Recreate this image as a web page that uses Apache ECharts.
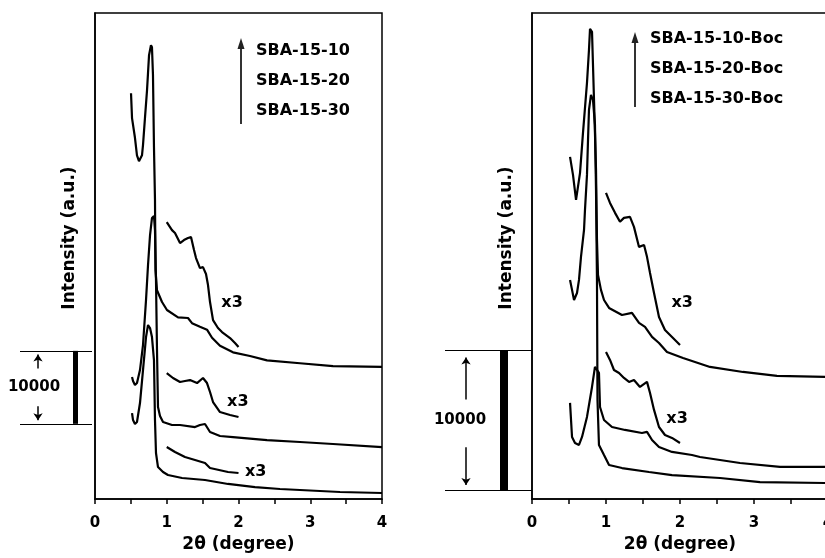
<!DOCTYPE html>
<html>
<head>
<meta charset="utf-8">
<script src="https://cdn.jsdelivr.net/npm/echarts@6/dist/echarts.min.js"></script>
<style>
  html, body { margin: 0; padding: 0; background: #fff; }
  #chart { width: 825px; height: 558px; }
</style>
</head>
<body>
<div id="chart"></div>
<script>
// 2theta, intensity (counts)
const tickLabels = ['0', '1', '2', '3', '4'];
const leftNames = ['SBA-15-10', 'SBA-15-20', 'SBA-15-30'];
const rightNames = ['SBA-15-10-Boc', 'SBA-15-20-Boc', 'SBA-15-30-Boc'];

const sba10 = [[0.502,55600],[0.516,52200],[0.557,49500],[0.585,47100],[0.613,46300],[0.655,47100],[0.669,48500],[0.697,52300],[0.725,56000],[0.739,58400],[0.753,60800],[0.780,62200],[0.794,61900],[0.808,58100],[0.822,48200],[0.836,41000],[0.843,31400],[0.864,28600],[0.934,27000],[1.003,25900],[1.157,24900],[1.296,24800],[1.352,24100],[1.463,23600],[1.561,23200],[1.631,22100],[1.742,21000],[1.923,20100],[2.160,19600],[2.397,19000],[2.857,18600],[3.317,18200],[4.0,18100]];
const sba10x3 = [[1.0,37950],[1.073,36850],[1.115,36440],[1.185,35070],[1.240,35480],[1.296,35760],[1.338,35890],[1.380,34110],[1.408,33020],[1.463,31650],[1.505,31780],[1.547,30830],[1.575,29320],[1.603,26990],[1.645,24520],[1.714,23430],[1.770,22880],[1.882,22060],[1.951,21370],[2.0,20820]];
const sba20 = [[0.516,16710],[0.530,16170],[0.557,15620],[0.585,15890],[0.627,17670],[0.669,21100],[0.711,27260],[0.739,32060],[0.767,36170],[0.794,38500],[0.822,38770],[0.836,36850],[0.850,30000],[0.864,20410],[0.878,12600],[0.906,11370],[0.948,10550],[1.073,10140],[1.185,10140],[1.394,9860],[1.463,10140],[1.533,10280],[1.603,9180],[1.742,8630],[1.923,8490],[2.397,8080],[2.857,7810],[3.317,7540],[4.0,7120]];
const sba20x3 = [[1.0,17260],[1.087,16580],[1.185,16030],[1.254,16170],[1.324,16300],[1.422,15890],[1.505,16580],[1.561,15890],[1.603,14660],[1.645,13290],[1.742,11920],[1.882,11510],[2.0,11230]];
const sba30 = [[0.516,11780],[0.530,10820],[0.557,10280],[0.585,10550],[0.627,13150],[0.669,17670],[0.711,22190],[0.739,23840],[0.767,23430],[0.794,22190],[0.822,19040],[0.836,10820],[0.850,6300],[0.878,4380],[0.948,3700],[1.017,3290],[1.213,2880],[1.533,2600],[1.854,2060],[2.230,1640],[2.578,1370],[3.415,960],[4.0,820]];
const sba30x3 = [[1.0,7120],[1.115,6440],[1.254,5750],[1.394,5340],[1.533,4930],[1.603,4250],[1.854,3700],[2.0,3560]];

const boc10 = [[0.514,24430],[0.554,23140],[0.595,21360],[0.649,23290],[0.689,26140],[0.743,29710],[0.770,32070],[0.784,33570],[0.811,33360],[0.838,28500],[0.865,23500],[0.878,18500],[0.892,16000],[0.932,14930],[0.973,14210],[1.041,13640],[1.216,13140],[1.351,13290],[1.446,12570],[1.527,12290],[1.622,11570],[1.716,11140],[1.824,10500],[2.041,10070],[2.405,9430],[2.851,9070],[3.311,8790],[4.0,8710]];
const boc10x3 = [[1.0,21860],[1.054,21140],[1.122,20430],[1.189,19790],[1.243,20070],[1.324,20140],[1.378,19430],[1.446,18000],[1.514,18140],[1.554,17290],[1.595,16140],[1.649,14710],[1.716,13000],[1.797,12070],[1.892,11570],[2.0,11000]];
const boc20 = [[0.514,15640],[0.541,14930],[0.568,14210],[0.608,14710],[0.635,15640],[0.662,17290],[0.703,19210],[0.716,20640],[0.743,23140],[0.757,25640],[0.770,27790],[0.797,28860],[0.824,28500],[0.851,26710],[0.865,22070],[0.878,15640],[0.885,7070],[0.905,3860],[0.973,3140],[1.041,2430],[1.216,2210],[1.581,1930],[1.892,1710],[2.541,1500],[3.081,1210],[4.0,1140]];
const boc20x3 = [[1.0,10500],[1.054,9930],[1.108,9210],[1.176,9000],[1.243,8640],[1.311,8360],[1.378,8500],[1.459,8000],[1.554,8360],[1.595,7570],[1.649,6360],[1.716,5140],[1.797,4570],[1.892,4360],[2.0,4000]];
const boc30 = [[0.514,6860],[0.541,4430],[0.581,4000],[0.635,3860],[0.676,4430],[0.743,5860],[0.811,8000],[0.851,9430],[0.878,9570],[0.905,9000],[0.919,6570],[0.973,5640],[1.081,5140],[1.257,4930],[1.486,4710],[1.554,4790],[1.622,4210],[1.716,3710],[1.892,3360],[2.162,3140],[2.270,3000],[2.811,2570],[3.351,2290],[4.0,2290]];

// "x3" tag positions (data coords) and the 10000-count scale bars
const leftTags = [[1.91,26850],[1.99,13290],[2.24,3700]];
const rightTags = [[2.03,14000],[1.96,5710]];
const leftScale = [10300, 20300];
const rightScale = [600, 10600];
const scaleSpan = 10000;

const FONT = 'DejaVu Sans';
const txt = (size) => ({ fontFamily: FONT, fontWeight: 'bold', fontSize: size, color: '#000' });
const plainLabel = { textBorderWidth: 0, textBorderColor: 'transparent', textShadowBlur: 0, opacity: 1 };

const chart = echarts.init(document.getElementById('chart'), null, { renderer: 'canvas' });

function curve(name, data, g) {
  return {
    name: name, type: 'line', data: data, xAxisIndex: g, yAxisIndex: g,
    showSymbol: false, symbol: 'none', silent: true,
    lineStyle: { color: '#000', width: 2.2 }
  };
}

function tags(data, g) {
  return {
    type: 'scatter', data: data, xAxisIndex: g, yAxisIndex: g,
    symbolSize: 0.1, itemStyle: { color: 'transparent', opacity: 1 }, silent: true,
    label: { show: true, position: 'inside', formatter: 'x3', ...txt(16), ...plainLabel }
  };
}

// scale bar drawn in a side grid that shares the intensity scale
function scaleBar(g, range, x) {
  const [lo, hi] = range;
  const at = (f) => lo + f * scaleSpan;
  return [
    {
      type: 'lines', coordinateSystem: 'cartesian2d', xAxisIndex: g, yAxisIndex: g,
      silent: true, symbol: 'none',
      data: [
        { coords: [[x.l0, hi], [x.l1, hi]], lineStyle: { width: 1.2 } },
        { coords: [[x.l0, lo], [x.l1, lo]], lineStyle: { width: 1.2 } },
        { coords: [[x.bar, lo], [x.bar, hi]], lineStyle: { width: x.barW } }
      ],
      lineStyle: { color: '#000', opacity: 1 }
    },
    {
      type: 'lines', coordinateSystem: 'cartesian2d', xAxisIndex: g, yAxisIndex: g,
      silent: true, symbol: ['none', 'arrow'], symbolSize: 7,
      data: [
        { coords: [[x.arrow, at(x.up[0])], [x.arrow, at(x.up[1])]] },
        { coords: [[x.arrow, at(x.dn[0])], [x.arrow, at(x.dn[1])]] }
      ],
      lineStyle: { color: '#000', width: 1.5, opacity: 1 }
    },
    {
      type: 'scatter', xAxisIndex: g, yAxisIndex: g, silent: true,
      data: [[x.text, at(0.5)]], symbolSize: 0.1, itemStyle: { color: 'transparent', opacity: 1 },
      label: { show: true, position: 'inside', formatter: String(scaleSpan), ...txt(15), ...plainLabel }
    }
  ];
}

function mainX(g) {
  return {
    gridIndex: g, type: 'value', min: 0, max: 4, interval: 0.5,
    axisLine: { show: true, lineStyle: { color: '#000', width: 1.5 } },
    axisTick: { show: true, inside: false, length: 5, lineStyle: { color: '#000', width: 1.5 } },
    axisLabel: { margin: 17, hideOverlap: false, formatter: (v) => Number.isInteger(v) ? tickLabels[v] : '', ...txt(15) },
    splitLine: { show: false },
    name: '2θ (degree)', nameLocation: 'middle', nameGap: 36, nameTextStyle: txt(17)
  };
}

function mainY(g, max) {
  return {
    gridIndex: g, type: 'value', min: 0, max: max,
    axisLine: { show: true, lineStyle: { color: '#000', width: 1.5 } },
    axisTick: { show: false }, axisLabel: { show: false }, splitLine: { show: false },
    name: 'Intensity (a.u.)', nameLocation: 'middle', nameGap: 17,
    nameTextStyle: { ...txt(17), padding: [0, 0, 0, 36] }
  };
}

const hidden = (g, min, max) => ({ gridIndex: g, type: 'value', min: min, max: max, show: false });

const legendBase = {
  orient: 'vertical', icon: 'none', itemWidth: 0, itemHeight: 18, itemGap: 12.8,
  selectedMode: false, textStyle: txt(16)
};

const arrowGfx = (x, y0, y1) => ({
  type: 'group', silent: true,
  children: [
    { type: 'line', shape: { x1: x, y1: y0, x2: x, y2: y1 + 6 }, style: { stroke: '#333', lineWidth: 2 } },
    { type: 'polygon', shape: { points: [[x, y1], [x - 3.5, y1 + 11], [x + 3.5, y1 + 11]] }, style: { fill: '#222' } }
  ]
});

const gridBase = { top: 13, height: 486, outerBoundsMode: 'none', containLabel: false };

chart.setOption({
  animation: false,
  backgroundColor: '#fff',
  grid: [
    { ...gridBase, left: 95, width: 287, show: true, borderColor: '#000', borderWidth: 1.5 },
    { ...gridBase, left: 532, width: 296, show: true, borderColor: '#000', borderWidth: 1.5 },
    { ...gridBase, left: 15, width: 80 },
    { ...gridBase, left: 435, width: 97 }
  ],
  xAxis: [mainX(0), mainX(1), hidden(2, 0, 80), hidden(3, 0, 97)],
  yAxis: [mainY(0, 66600), mainY(1, 34700), hidden(2, 0, 66600), hidden(3, 0, 34700)],
  legend: [
    { ...legendBase, data: leftNames, left: 246, top: 37 },
    { ...legendBase, data: rightNames, left: 640, top: 25 }
  ],
  graphic: [arrowGfx(241, 124, 38), arrowGfx(635, 107, 32)],
  series: [
    curve(leftNames[0], sba10, 0), curve('x3-10', sba10x3, 0),
    curve(leftNames[1], sba20, 0), curve('x3-20', sba20x3, 0),
    curve(leftNames[2], sba30, 0), curve('x3-30', sba30x3, 0),
    tags(leftTags, 0),
    curve(rightNames[0], boc10, 1), curve('x3-10-Boc', boc10x3, 1),
    curve(rightNames[1], boc20, 1), curve('x3-20-Boc', boc20x3, 1),
    curve(rightNames[2], boc30, 1),
    tags(rightTags, 1),
    ...scaleBar(2, leftScale, { l0: 5, l1: 77, bar: 60, barW: 5, arrow: 23, text: 19, up: [0.76, 0.95], dn: [0.24, 0.05] }),
    ...scaleBar(3, rightScale, { l0: 10, l1: 97, bar: 69, barW: 8, arrow: 31, text: 25, up: [0.65, 0.95], dn: [0.31, 0.04] })
  ]
});

window.addEventListener('resize', () => { chart.resize(); });
</script>
</body>
</html>
